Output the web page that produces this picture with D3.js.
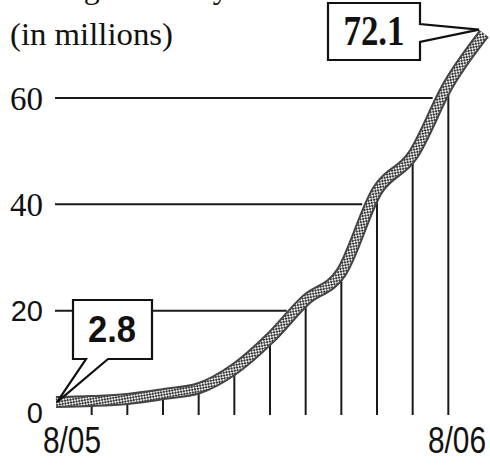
<!DOCTYPE html>
<html>
<head>
<meta charset="utf-8">
<script src="https://cdn.jsdelivr.net/npm/d3@7"></script>
<style>
  body { margin: 0; background: #fff; }
  svg { display: block; }
</style>
</head>
<body>
<script>
// Data: monthly values, 8/05 .. 8/06 (in millions)
var months = ["8/05", "9/05", "10/05", "11/05", "12/05", "1/06", "2/06", "3/06", "4/06", "5/06", "6/06", "7/06", "8/06"];
var values = [2.8, 3.0, 3.4, 4.3, 5.4, 9.0, 14.8, 22, 27.2, 42.5, 49.2, 62.5, 72.1];
var yTicks = [0, 20, 40, 60];
var xLabels = ["8/05", "8/06"];
var callouts = [{ i: 0, text: "2.8" }, { i: 12, text: "72.1" }];

var width = 490, height = 465;

var svg = d3.select("body")
            .append("svg")
            .attr("width", width)
            .attr("height", height);

// Scales
var x = d3.scalePoint()
          .domain(months)
          .range([56, 484]);

var y = d3.scaleLinear()
          .domain([0, 60])
          .range([417, 98]);

// checker texture for the thick line
var defs = svg.append("defs");
var pat = defs.append("pattern")
              .attr("id", "checks")
              .attr("patternUnits", "userSpaceOnUse")
              .attr("width", 4)
              .attr("height", 4)
              .attr("patternTransform", "rotate(35)");
pat.append("rect").attr("width", 4).attr("height", 4).attr("fill", "#e8e8e8");
pat.append("rect").attr("width", 2).attr("height", 2).attr("fill", "#3a3a3a");
pat.append("rect").attr("x", 2).attr("y", 2).attr("width", 2).attr("height", 2).attr("fill", "#3a3a3a");

// where the line reaches a given value (linear between months)
function crossX(v) {
  for (var k = 0; k < values.length - 1; k++) {
    if (values[k] <= v && v <= values[k + 1]) {
      var t = (v - values[k]) / (values[k + 1] - values[k]);
      return x(months[k]) + t * (x(months[k + 1]) - x(months[k]));
    }
  }
  return x(months[months.length - 1]);
}

// Horizontal gridlines (stop at the line)
svg.selectAll(".grid")
   .data(yTicks.filter(function(d) { return d > 0; }))
   .enter()
   .append("line")
   .attr("class", "grid")
   .attr("x1", 55)
   .attr("x2", function(d) { return crossX(d) - 9; })
   .attr("y1", function(d) { return y(d); })
   .attr("y2", function(d) { return y(d); })
   .style("stroke", "#1a1a1a")
   .style("stroke-width", 2);

// Vertical month lines
svg.selectAll(".drop")
   .data(values.slice(1, values.length - 1))
   .enter()
   .append("line")
   .attr("class", "drop")
   .attr("x1", function(d, i) { return x(months[i + 1]); })
   .attr("x2", function(d, i) { return x(months[i + 1]); })
   .attr("y1", y(0) - 2)
   .attr("y2", function(d) { return y(d); })
   .style("stroke", "#1a1a1a")
   .style("stroke-width", 2);

// The thick textured line
var line = d3.line()
             .x(function(d, i) { return x(months[i]); })
             .y(function(d) { return y(d); })
             .curve(d3.curveMonotoneX);

svg.append("path")
   .datum(values)
   .attr("d", line)
   .style("fill", "none")
   .style("stroke", "#444")
   .style("stroke-width", 12)
   .style("stroke-linecap", "butt");

svg.append("path")
   .datum(values)
   .attr("d", line)
   .style("fill", "none")
   .style("stroke", "url(#checks)")
   .style("stroke-width", 8)
   .style("stroke-linecap", "butt");

// Y tick labels ("60", "40" serif, "20", "0" sans as in the original)
svg.selectAll(".ylab")
   .data(yTicks)
   .enter()
   .append("text")
   .attr("class", "ylab")
   .attr("x", 43)
   .attr("y", function(d) { return d === 0 ? y(d) - 4 : y(d); })
   .attr("dy", "0.35em")
   .attr("text-anchor", "end")
   .style("font-family", function(d) { return d >= 40 ? "'Liberation Serif', serif" : "'Liberation Sans', sans-serif"; })
   .style("font-size", function(d) { return d >= 40 ? "33px" : "29px"; })
   .style("fill", "#111")
   .text(function(d) { return d; });

// X labels
svg.append("text")
   .attr("x", 72)
   .attr("y", 453)
   .attr("text-anchor", "middle")
   .attr("textLength", 58)
   .attr("lengthAdjust", "spacingAndGlyphs")
   .style("font-family", "'Liberation Sans', sans-serif")
   .style("font-size", "36px")
   .style("fill", "#111")
   .text(xLabels[0]);

svg.append("text")
   .attr("x", 457)
   .attr("y", 453)
   .attr("text-anchor", "middle")
   .attr("textLength", 58)
   .attr("lengthAdjust", "spacingAndGlyphs")
   .style("font-family", "'Liberation Sans', sans-serif")
   .style("font-size", "36px")
   .style("fill", "#111")
   .text(xLabels[1]);

// Title (first line cut off at the top edge, as in the original)
svg.append("text")
   .attr("x", 8)
   .attr("y", -2)
   .style("font-family", "'Liberation Serif', serif")
   .style("font-size", "32px")
   .style("fill", "#111")
   .text("Average monthly");

svg.append("text")
   .attr("x", 10)
   .attr("y", 45)
   .attr("textLength", 163)
   .attr("lengthAdjust", "spacingAndGlyphs")
   .style("font-family", "'Liberation Serif', serif")
   .style("font-size", "32px")
   .style("fill", "#111")
   .text("(in millions)");

// Callouts
var c0 = callouts[0], c1 = callouts[1];
var t0 = [x(months[c0.i]) + 1, y(values[c0.i])];
var t1 = [x(months[c1.i]) - 5, y(values[c1.i]) - 4];

svg.append("path")
   .attr("d", "M73,300 H152 V359 H108 L" + t0[0] + "," + t0[1] + " L86,359 H73 Z")
   .style("fill", "#fff")
   .style("stroke", "#111")
   .style("stroke-width", 2.2)
   .style("stroke-linejoin", "miter");

svg.append("text")
   .attr("x", 112)
   .attr("y", 342)
   .attr("text-anchor", "middle")
   .attr("textLength", 48)
   .attr("lengthAdjust", "spacingAndGlyphs")
   .style("font-family", "'Liberation Sans', sans-serif")
   .style("font-weight", "bold")
   .style("font-size", "37px")
   .style("fill", "#111")
   .text(c0.text);

svg.append("path")
   .attr("d", "M328,3 H420 V24 L" + t1[0] + "," + t1[1] + " L420,42 V60 H328 Z")
   .style("fill", "#fff")
   .style("stroke", "#111")
   .style("stroke-width", 2.2)
   .style("stroke-linejoin", "miter");

svg.append("text")
   .attr("x", 374)
   .attr("y", 45)
   .attr("text-anchor", "middle")
   .attr("textLength", 61)
   .attr("lengthAdjust", "spacingAndGlyphs")
   .style("font-family", "'Liberation Serif', serif")
   .style("font-weight", "bold")
   .style("font-size", "42px")
   .style("fill", "#111")
   .text(c1.text);
</script>
</body>
</html>
